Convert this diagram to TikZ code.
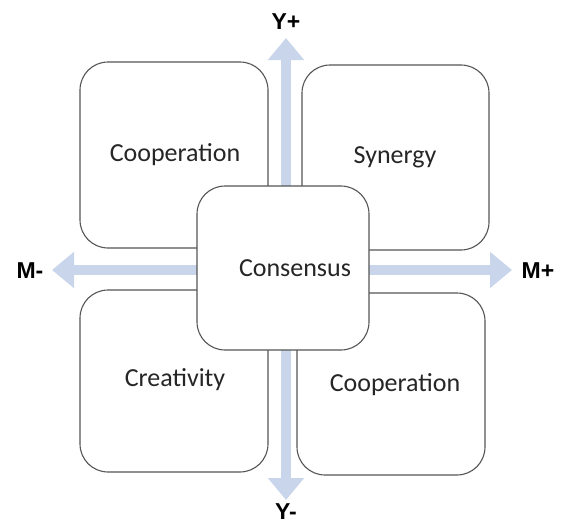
\documentclass[tikz,border=0pt]{standalone}
\usepackage{fontspec}
\setmainfont{Carlito}
\newfontfamily\labelfont{Liberation Sans}
\usetikzlibrary{arrows.meta}
\definecolor{axisblue}{HTML}{C9D5EB}
\definecolor{boxline}{HTML}{555555}
\definecolor{txt}{HTML}{262626}
\tikzset{
  quad/.style={draw=boxline, line width=1.1pt, fill=white, rounded corners=28pt},
  boxtext/.style={text=txt, font=\fontsize{26}{30}\selectfont},
  axislabel/.style={font=\labelfont\bfseries\fontsize{23}{27}\selectfont, text=black, inner sep=1pt},
  axis/.style={draw=axisblue, line width=10pt, {Triangle[width=35pt,length=22pt]}-{Triangle[width=35pt,length=22pt]}}
}
\begin{document}
\begin{tikzpicture}[x=1pt,y=-1pt]
\useasboundingbox (0,0) rectangle (563,525);
% axes
\coordinate (yt) at (286,38);
\coordinate (yb) at (286,500);
\coordinate (ml) at (52,270);
\coordinate (mr) at (512,270);
\draw[axis] (yt) -- (yb);
\draw[axis] (ml) -- (mr);
% quadrant boxes
\draw[quad] (80,62) rectangle (268,248);
\draw[quad] (302,65) rectangle (489,250);
\draw[quad] (80,290) rectangle (268,472);
\draw[quad] (297,293) rectangle (485,475);
\draw[quad] (197,186) rectangle (369,350);
% texts
\node[boxtext] (coop1) at (175,155) {Cooperation};
\node[boxtext] (syn) at (395,157) {Synergy};
\node[boxtext] (cons) at (295,268) {Consensus};
\node[boxtext] (crea) at (175,380) {Creativity};
\node[boxtext] (coop2) at (395,385) {Cooperation};
% axis labels
\node[axislabel] (yp) at (286,22) {Y+};
\node[axislabel] (ym) at (286,512) {Y-};
\node[axislabel] (mm) at (30,271) {M-};
\node[axislabel] (mp) at (538,271) {M+};
\end{tikzpicture}
\end{document}
